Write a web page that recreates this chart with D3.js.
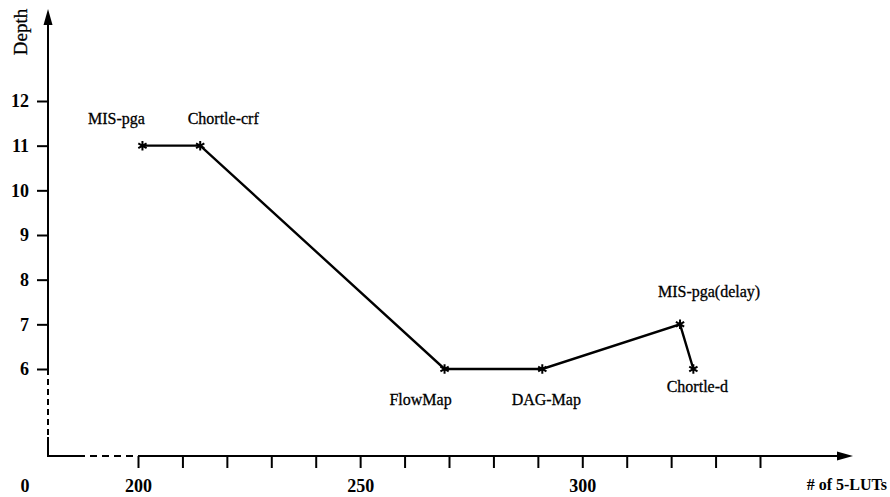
<!DOCTYPE html>
<html>
<head>
<meta charset="utf-8">
<script src="https://cdn.jsdelivr.net/npm/d3@7"></script>
<style>
  html, body { margin: 0; padding: 0; background: #fff; }
  svg { display: block; font-family: 'Liberation Serif', 'DejaVu Serif', serif; }
</style>
</head>
<body>
<svg id="chart" width="890" height="497"></svg>
<script>
// data
const mappers = ['MIS-pga', 'Chortle-crf', 'FlowMap', 'DAG-Map', 'MIS-pga(delay)', 'Chortle-d'];
const luts = [201, 214, 269, 291, 322, 325];
const depths = [11, 11, 6, 6, 7, 6];
const xTicks = [200, 210, 220, 230, 240, 250, 260, 270, 280, 290, 300, 310, 320, 330, 340];
const xLabels = [200, 250, 300];
const yTicks = [6, 7, 8, 9, 10, 11, 12];

// where each name sits relative to its point
const labelOffsets = [[-26, -22], [23, -22], [-24, 36], [4, 36], [29, -27], [4, 23]];

const originX = 48;
const originY = 456;

const x = d3.scaleLinear().domain([200, 340]).range([138, 760]);
const y = d3.scaleLinear().domain([6, 12]).range([369, 101]);

const svg = d3.select('#chart');

const points = mappers.map((name, i) => ({ name, lut: luts[i], depth: depths[i], off: labelOffsets[i] }));

// x axis: ticks and labels from the scale, the broken line drawn by hand
const xAxis = svg.append('g')
  .attr('transform', `translate(0,${originY})`)
  .call(d3.axisBottom(x)
    .tickValues(xTicks)
    .tickSize(12)
    .tickPadding(11)
    .tickFormat(d => xLabels.includes(d) ? d : ''));
xAxis.select('.domain').remove();
xAxis.selectAll('line').attr('stroke', '#000').attr('stroke-width', 2);
xAxis.selectAll('text')
  .attr('fill', '#000')
  .attr('font-family', 'Liberation Serif')
  .attr('font-weight', 'bold')
  .attr('font-size', 18);

svg.append('text')
  .attr('x', 25).attr('y', 492)
  .attr('text-anchor', 'middle')
  .attr('font-size', 18).attr('font-weight', 'bold')
  .text('0');

const axisLine = svg.append('g').attr('stroke', '#000').attr('stroke-width', 2).attr('fill', 'none');
axisLine.append('line').attr('x1', originX).attr('x2', 78).attr('y1', originY).attr('y2', originY);
axisLine.append('line').attr('x1', 78).attr('x2', x(200)).attr('y1', originY).attr('y2', originY)
  .attr('stroke-dasharray', '7,5');
axisLine.append('line').attr('x1', x(200)).attr('x2', 842).attr('y1', originY).attr('y2', originY);

// y axis
const yAxis = svg.append('g')
  .attr('transform', `translate(${originX},0)`)
  .call(d3.axisLeft(y)
    .tickValues(yTicks)
    .tickSize(11)
    .tickPadding(8)
    .tickFormat(d3.format('d')));
yAxis.select('.domain').remove();
yAxis.selectAll('line').attr('stroke', '#000').attr('stroke-width', 2);
yAxis.selectAll('text')
  .attr('fill', '#000')
  .attr('font-family', 'Liberation Serif')
  .attr('font-weight', 'bold')
  .attr('font-size', 18);

axisLine.append('line').attr('x1', originX).attr('x2', originX).attr('y1', 20).attr('y2', y(6));
axisLine.append('line').attr('x1', originX).attr('x2', originX).attr('y1', y(6)).attr('y2', 437)
  .attr('stroke-dasharray', '6,4');
axisLine.append('line').attr('x1', originX).attr('x2', originX).attr('y1', 437).attr('y2', originY + 1);

// arrow heads
svg.append('path').attr('d', `M${originX},9L${originX - 4.5},25L${originX + 4.5},25Z`).attr('fill', '#000');
svg.append('path').attr('d', `M853,${originY}L837,${originY - 4.5}L837,${originY + 4.5}Z`).attr('fill', '#000');

svg.append('text')
  .attr('transform', 'translate(27,32) rotate(-90)')
  .attr('text-anchor', 'middle')
  .attr('font-size', 19)
  .attr('stroke', '#000')
  .attr('stroke-width', 0.3)
  .text('Depth');

svg.append('text')
  .attr('x', 887).attr('y', 490)
  .attr('text-anchor', 'end')
  .attr('font-size', 16).attr('font-weight', 'bold')
  .text('# of 5-LUTs');

// the trade-off line
const line = d3.line().x(d => x(d.lut)).y(d => y(d.depth));
svg.append('path')
  .datum(points)
  .attr('d', line)
  .attr('fill', 'none')
  .attr('stroke', '#000')
  .attr('stroke-width', 2.4);

const star = d3.symbol(d3.symbolAsterisk, 64);
svg.append('g')
  .selectAll('path')
  .data(points)
  .join('path')
  .attr('transform', d => `translate(${x(d.lut)},${y(d.depth)})`)
  .attr('d', star)
  .attr('fill', 'none')
  .attr('stroke', '#000')
  .attr('stroke-width', 2);

svg.append('g')
  .attr('font-size', 16)
  .attr('text-anchor', 'middle')
  .selectAll('text')
  .data(points)
  .join('text')
  .attr('x', d => x(d.lut) + d.off[0])
  .attr('y', d => y(d.depth) + d.off[1])
  .attr('stroke', '#000')
  .attr('stroke-width', 0.3)
  .text(d => d.name);
</script>
</body>
</html>
